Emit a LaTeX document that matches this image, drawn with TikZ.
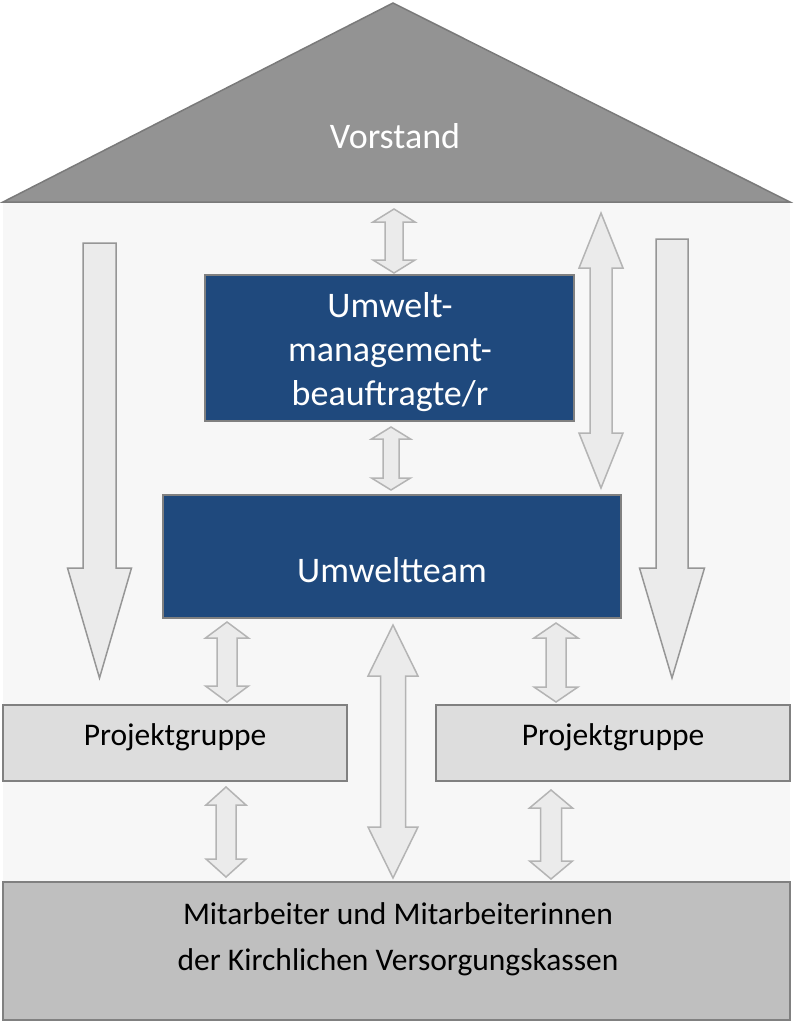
\documentclass[tikz,border=0pt]{standalone}
\usepackage{fontspec}
\setmainfont{Carlito}
\usetikzlibrary{calc}

\definecolor{roofgray}{RGB}{147,147,147}
\definecolor{roofline}{RGB}{122,122,122}
\definecolor{wallgray}{RGB}{247,247,247}
\definecolor{teamblue}{RGB}{31,73,125}
\definecolor{boxline}{RGB}{128,128,128}
\definecolor{groupgray}{RGB}{221,221,221}
\definecolor{basegray}{RGB}{191,191,191}
\definecolor{arrowfill}{RGB}{235,235,235}
\definecolor{arrowline}{RGB}{180,180,180}
\definecolor{downline}{RGB}{150,150,150}

% double block arrow: top tip, bottom tip, half shaft, half head, head length
\newcommand{\twoway}[5]{%
  \draw[blockarrow] let \p1=(#1), \p2=(#2) in
    (\p1) -- ++(#4,#5) -- ++({#3-#4},0) -- (\x1+#3pt,\y2+#5pt) -- ++({#4-#3},0) -- (\p2)
    -- ++(-#4,-#5) -- ++({#4-#3},0) -- (\x1-#3pt,\y1-#5pt) -- ++({#3-#4},0) -- cycle;}
% single block arrow: top of shaft, tip, half shaft, half head, head length
\newcommand{\oneway}[5]{%
  \draw[blockarrow,draw=downline] let \p1=(#1), \p2=(#2) in
    (\x1-#3pt,\y1) -- (\x1+#3pt,\y1) -- (\x1+#3pt,\y2+#5pt) -- ++({#4-#3},0) -- (\p2)
    -- (\x1-#4pt,\y2+#5pt) -- ++({#4-#3},0) -- cycle;}

\begin{document}
\begin{tikzpicture}[
		x=1pt,y=-1pt,
		line width=1.5pt,
		blockarrow/.style={fill=arrowfill,draw=arrowline,line join=miter},
		bluebox/.style={rectangle,fill=teamblue,draw=boxline,text=white,inner sep=0pt},
		groupbox/.style={rectangle,fill=groupgray,draw=boxline,inner sep=0pt,text height=15,text depth=11,font=\fontsize{31.5}{38}\selectfont},
		bigtext/.style={font=\fontsize{36}{44}\selectfont}
		]
		\useasboundingbox (0,0) rectangle (793,1023);
		
		% house
		\fill[wallgray] (3,203) rectangle (790,1020);
		\draw[fill=roofgray,draw=roofline] (3,202) -- (393,3) -- (790,202) -- cycle;
		\node[bigtext,text=white,anchor=base](vorstand) at (395,148){Vorstand};
		
		\node[bluebox,minimum width=369,minimum height=146](umb) at (389.5,348){};
		\node[bigtext,text=white,align=center](umbtext) at (390,352){Umwelt-\\management-\\beauftragte/r};
		\node[bluebox,minimum width=458,minimum height=123](team) at (392,556.5){};
		\node[bigtext,text=white,anchor=base](teamtext) at (392,582){Umweltteam};
		\node[groupbox,minimum width=344,minimum height=76](pgl) at (175,743){Projektgruppe};
		\node[groupbox,minimum width=354,minimum height=76](pgr) at (613,743){Projektgruppe};
		\node[rectangle,fill=basegray,draw=boxline,minimum width=787,minimum height=138,inner sep=0pt](staff) at (396.5,951){};
		\node[align=center,font=\fontsize{31.5}{46}\selectfont](stafftext) at (398,939){Mitarbeiter und Mitarbeiterinnen\\der Kirchlichen Versorgungskassen};
		
		% arrow ends
		\coordinate (a1) at (394,209); \coordinate (a2) at (394,273);
		\coordinate (b1) at (391,427); \coordinate (b2) at (391,490);
		\coordinate (c1) at (601,213); \coordinate (c2) at (601,488);
		\coordinate (d1) at (99.5,243); \coordinate (d2) at (99.5,678);
		\coordinate (e1) at (672,239); \coordinate (e2) at (672,678);
		\coordinate (f1) at (227,622); \coordinate (f2) at (227,702);
		\coordinate (g1) at (556,623); \coordinate (g2) at (556,702);
		\coordinate (h1) at (393,625); \coordinate (h2) at (393,878);
		\coordinate (i1) at (226,787); \coordinate (i2) at (226,877);
		\coordinate (j1) at (551,790); \coordinate (j2) at (551,879);
		
		\twoway{a1}{a2}{9}{21}{13}
		\twoway{b1}{b2}{8}{19.5}{12}
		\twoway{c1}{c2}{11}{22}{55}
		\oneway{d1}{d2}{16.5}{32}{110}
		\oneway{e1}{e2}{16}{32.5}{110}
		\twoway{f1}{f2}{10}{21.5}{16}
		\twoway{g1}{g2}{10}{22}{15}
		\twoway{h1}{h2}{12.5}{25}{51}
		\twoway{i1}{i2}{10}{20}{18}
		\twoway{j1}{j2}{10.5}{21.5}{18}
		
		\end{tikzpicture}
\end{document}
